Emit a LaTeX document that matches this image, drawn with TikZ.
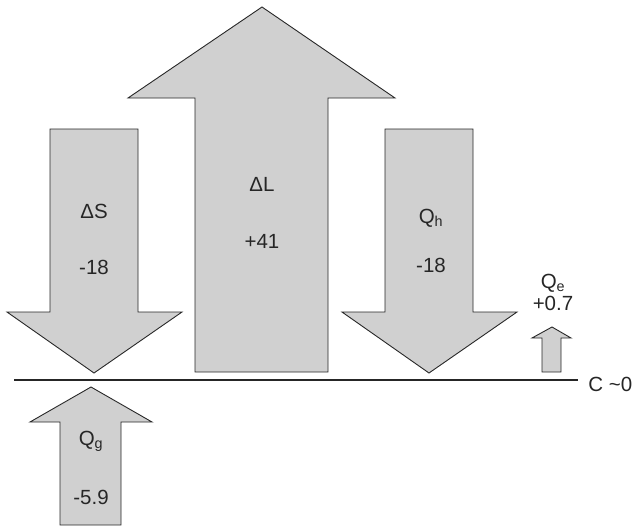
\documentclass[tikz,border=0pt]{standalone}
\usepackage{fontspec}
\setmainfont{Liberation Sans}
\definecolor{arrfill}{RGB}{208,208,208}
\definecolor{arredge}{RGB}{40,40,40}
\begin{document}
\begin{tikzpicture}[x=1pt,y=-1pt,
  bigarrow/.style={fill=arrfill,draw=arredge,line width=0.9pt,line join=miter},
  lbl/.style={font=\fontsize{20.5}{24}\selectfont,text=black!85,inner sep=0pt}]
\useasboundingbox (0,0) rectangle (633,528);
% Delta S (down)
\draw[bigarrow] (50,129) -- (138,129) -- (138,312) -- (182,312) -- (94,373) -- (7,312) -- (50,312) -- cycle;
% Delta L (up)
\draw[bigarrow] (195,372) -- (195,98) -- (128,98) -- (262,7) -- (395,98) -- (328,98) -- (328,372) -- cycle;
% Q_h (down)
\draw[bigarrow] (385,129) -- (473,129) -- (473,312) -- (517,312) -- (429,373) -- (342,312) -- (385,312) -- cycle;
% Q_e (small up)
\draw[bigarrow] (542,372) -- (542,338) -- (532,338) -- (552,327) -- (571,338) -- (561,338) -- (561,372) -- cycle;
% Q_g (up)
\draw[bigarrow] (60,525) -- (60,422) -- (30,422) -- (91,387) -- (152,422) -- (121,422) -- (121,525) -- cycle;
% baseline
\coordinate (lineL) at (14,380);
\coordinate (lineR) at (578,380);
\draw[line width=1.6pt,draw=black!85] (lineL) -- (lineR);
% labels
\node[lbl] (dS) at (94,211) {ΔS};
\node[lbl] (dSv) at (94,267) {-18};
\node[lbl] (dL) at (262,184) {ΔL};
\node[lbl] (dLv) at (262,241) {+41};
\node[lbl] (Qh) at (431,218) {Q\textsubscript{h}};
\node[lbl] (Qhv) at (431,265) {-18};
\node[lbl,anchor=base] (Qe) at (553,288) {Q\textsubscript{e}};
\node[lbl,anchor=base] (Qev) at (553,310) {+0.7};
\node[lbl] (Qg) at (91,441) {Q\textsubscript{g}};
\node[lbl] (Qgv) at (91,497) {-5.9};
\node[lbl,anchor=east] (C) at (632.5,384) {C \textasciitilde0};
\end{tikzpicture}
\end{document}
